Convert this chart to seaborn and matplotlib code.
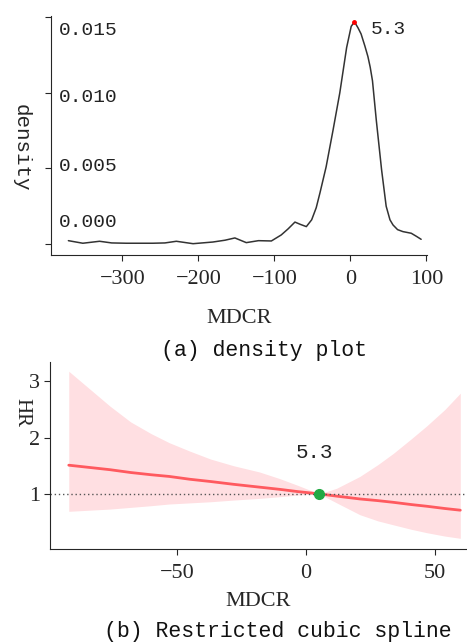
import numpy as np
import pandas as pd
import matplotlib
matplotlib.use('Agg')
import matplotlib.pyplot as plt
import matplotlib.transforms as mtransforms
import seaborn as sns

# (a) density of MDCR
dens_x = [-371, -352, -330, -314, -295, -277, -260, -244, -229, -207, -181, -165, -152, -137,
          -121, -104, -91, -82, -73, -66, -58, -51, -45, -40, -32, -23, -14, -5, 1, 5.3,
          10, 14, 19, 23, 26, 29, 34, 41, 47, 52, 56, 62, 69, 80, 87, 93]
dens_y = [0.00022, 0.00005, 0.00018, 0.00007, 0.00005, 0.00005, 0.00005, 0.00007, 0.00018,
          0.00002, 0.00013, 0.00025, 0.00040, 0.00009, 0.00022, 0.00020, 0.00060, 0.00100,
          0.00145, 0.00130, 0.00115, 0.00160, 0.00240, 0.00340, 0.00510, 0.00750, 0.01000,
          0.01300, 0.01440, 0.01470, 0.01430, 0.01390, 0.01310, 0.01240, 0.01170, 0.01080,
          0.00820, 0.00490, 0.00250, 0.00160, 0.00126, 0.00095, 0.00082, 0.00071, 0.00050,
          0.00031]
dens_ticks = [0.000, 0.005, 0.010, 0.015]
dens_xticks = [-300, -200, -100, 0, 100]

# (b) restricted cubic spline, HR with 95% CI
hr_x = [-92, -84, -76, -68, -60, -53, -45, -37, -28, -18, -10, -3, 5.3,
        12, 21, 28, 34, 41, 47, 54, 60]
hr = [1.51, 1.47, 1.43, 1.38, 1.34, 1.31, 1.26, 1.22, 1.17, 1.12, 1.08, 1.04, 1.00,
      0.96, 0.91, 0.88, 0.85, 0.81, 0.78, 0.74, 0.71]
hr_upper = [3.18, 2.87, 2.56, 2.28, 2.07, 1.91, 1.76, 1.62, 1.50, 1.39, 1.27, 1.15, 1.00,
            1.10, 1.31, 1.52, 1.72, 1.98, 2.21, 2.50, 2.79]
hr_lower = [0.69, 0.71, 0.73, 0.76, 0.79, 0.82, 0.84, 0.86, 0.89, 0.92, 0.95, 0.98, 1.00,
            0.84, 0.63, 0.52, 0.45, 0.37, 0.31, 0.25, 0.21]
hr_yticks = [1, 2, 3]
hr_xticks = [-50, 0, 50]
ref_x = 5.3

sns.set_style('ticks')
serif = ['Liberation Serif', 'DejaVu Serif']
mono = ['Liberation Mono', 'DejaVu Sans Mono']
plt.rcParams['font.family'] = serif

fig = plt.figure(figsize=(4.67, 6.44), dpi=100)

# ---- top panel
ax1 = fig.add_axes([0.109, 0.604, 0.805, 0.371])
dens = pd.DataFrame({'x': dens_x, 'y': dens_y})
sns.lineplot(data=dens, x='x', y='y', ax=ax1, color='#333333', linewidth=1.1, sort=True)
peak = dens.loc[dens['y'].idxmax()]
ax1.plot(peak['x'], peak['y'], 'o', color='red', markersize=2.5)
ax1.text(peak['x'] + 22, peak['y'] - 0.0005, f"{ref_x}", fontsize=14, family=mono,
         va='center', ha='left', color='#222222')
ax1.set_xlim(-394, 100.5)
ax1.set_ylim(-0.00073, 0.01508)
ax1.set_xticks(dens_xticks)
ax1.set_xticklabels([str(v).replace('-', '\u2212') for v in dens_xticks], fontsize=16)
ax1.set_yticks(dens_ticks)
ax1.set_yticklabels([f"{v:.3f}" for v in dens_ticks], fontsize=14, family=mono, color='#222222')
ax1.tick_params(axis='x', length=4, pad=7)
ax1.tick_params(axis='y', length=4, pad=0)
# labels sit inside the plot, shifted the way the original is
shifts = [17, 3, -1.7, -8]
for lab, s in zip(ax1.get_yticklabels(), shifts):
    lab.set_ha('left')
    lab.set_transform(lab.get_transform() +
                      mtransforms.ScaledTranslation(10 / 72, s / 72, fig.dpi_scale_trans))
ax1.set_xlabel('MDCR', fontsize=16, labelpad=14)
ax1.set_ylabel('density', fontsize=15, family=mono, rotation=270, labelpad=18)
ax1.yaxis.set_label_coords(-0.105, 0.45)
sns.despine(ax=ax1)

fig.text(0.565, 1 - 351 / 644, '(a) density plot', ha='center', va='center',
         fontsize=15.5, family=mono, color='#111111')

# ---- bottom panel
ax2 = fig.add_axes([0.107, 0.1475, 0.893, 0.290])
ax2.fill_between(hr_x, hr_lower, hr_upper, color='#FFDFE2', linewidth=0)
band = pd.DataFrame({'x': hr_x, 'hr': hr})
sns.lineplot(data=band, x='x', y='hr', ax=ax2, color='#FF5A5F', linewidth=2)
ax2.axhline(1, color='#555555', linestyle=(0, (1, 2)), linewidth=1)
ax2.plot(ref_x, 1, 'o', color='#22AA44', markersize=7, zorder=5)
ax2.text(ref_x - 2, 1.74, f"{ref_x}", fontsize=15, family=mono, ha='center', va='center',
         color='#222222')
ax2.set_xlim(-99.3, 62.6)
ax2.set_ylim(0.02, 3.34)
ax2.set_xticks(hr_xticks)
ax2.set_xticklabels([str(v).replace('-', '\u2212') for v in hr_xticks], fontsize=16)
ax2.set_yticks(hr_yticks)
ax2.set_yticklabels([str(v) for v in hr_yticks], fontsize=16)
ax2.tick_params(axis='x', length=4, pad=7)
ax2.tick_params(axis='y', length=4, pad=3)
ax2.set_xlabel('MDCR', fontsize=16, labelpad=6)
ax2.set_ylabel('HR', fontsize=15, rotation=270, labelpad=14)
ax2.yaxis.set_label_coords(-0.09, 0.73)
sns.despine(ax=ax2)

fig.text(0.595, 1 - 632 / 644, '(b) Restricted cubic spline', ha='center', va='center',
         fontsize=15.5, family=mono, color='#111111')

fig.savefig('out.png', dpi=100)
